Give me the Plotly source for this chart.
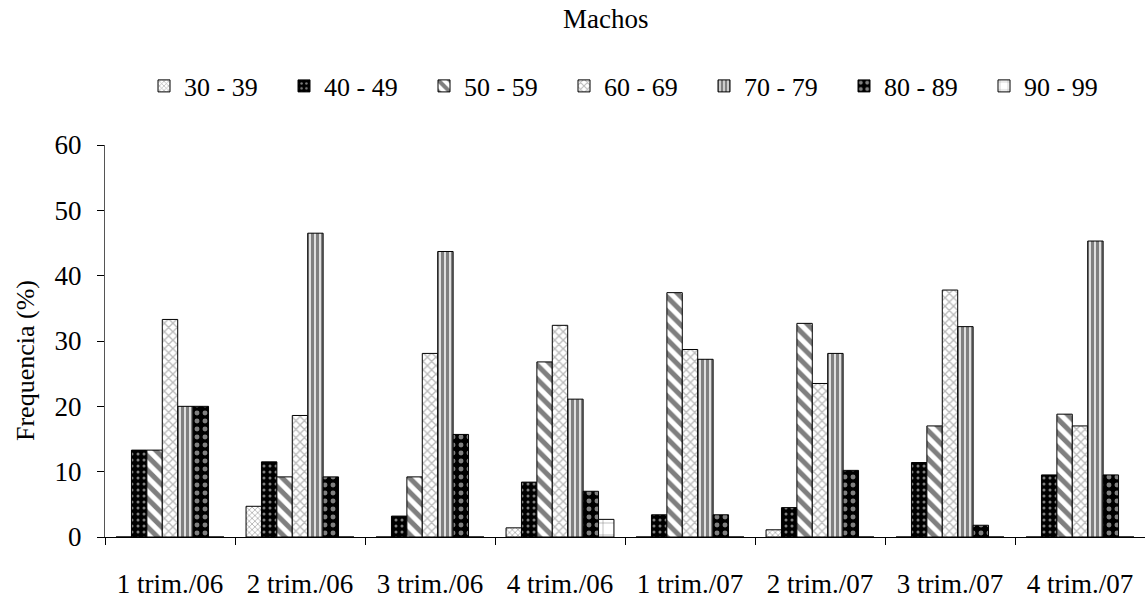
import plotly.graph_objects as go

categories = ["1 trim./06", "2 trim./06", "3 trim./06", "4 trim./06",
              "1 trim./07", "2 trim./07", "3 trim./07", "4 trim./07"]
series_names = ["30 - 39", "40 - 49", "50 - 59", "60 - 69", "70 - 79", "80 - 89", "90 - 99"]

v30_39 = [0, 4.7, 0, 1.4, 0, 1.1, 0, 0]
v40_49 = [13.3, 11.5, 3.2, 8.4, 3.4, 4.5, 11.4, 9.5]
v50_59 = [13.3, 9.2, 9.2, 26.8, 37.4, 32.7, 17.0, 18.8]
v60_69 = [33.3, 18.6, 28.1, 32.4, 28.7, 23.5, 37.8, 17.0]
v70_79 = [20.0, 46.5, 43.7, 21.1, 27.2, 28.1, 32.2, 45.3]
v80_89 = [20.0, 9.2, 15.7, 7.0, 3.4, 10.2, 1.8, 9.5]
v90_99 = [0, 0, 0, 2.7, 0, 0, 0, 0]

values = [v30_39, v40_49, v50_59, v60_69, v70_79, v80_89, v90_99]

patterns = [
    dict(shape="x", fgcolor="#555555", bgcolor="white", size=4, solidity=0.35),
    dict(shape=".", fgcolor="white", bgcolor="black", size=6, solidity=0.2),
    dict(shape="\\", fgcolor="black", bgcolor="white", size=10, solidity=0.5),
    dict(shape="x", fgcolor="#777777", bgcolor="white", size=6, solidity=0.4),
    dict(shape="|", fgcolor="black", bgcolor="white", size=5, solidity=0.7),
    dict(shape=".", fgcolor="white", bgcolor="black", size=8, solidity=0.3),
    dict(shape="+", fgcolor="black", bgcolor="white", size=12, solidity=0.08),
]

fig = go.Figure()
for name, vals, pat in zip(series_names, values, patterns):
    fig.add_trace(go.Bar(
        x=categories, y=vals, name=name,
        marker=dict(color="white", pattern=pat, line=dict(color="black", width=1)),
    ))

font = "Liberation Serif"
L, T, B, W, H = 105, 145, 67, 1145, 604
PW, PH = W - L, H - T - B
fig.update_layout(
    width=W, height=H,
    margin=dict(l=L, r=0, t=T, b=B, pad=0, autoexpand=False),
    paper_bgcolor="white", plot_bgcolor="white",
    barmode="group", bargap=0.17, bargroupgap=0,
    font=dict(family=font, color="black"),
    showlegend=True,
    legend=dict(orientation="h", x=(144 - L) / PW, xanchor="left",
                y=1 - 86 / H, yref="container", yanchor="middle",
                font=dict(size=26, family=font),
                entrywidth=95, entrywidthmode="pixels", traceorder="normal"),
    xaxis=dict(showline=True, linecolor="black", linewidth=1, ticks="outside",
               tickson="boundaries", ticklen=7, tickcolor="black", automargin=False,
               tickfont=dict(size=27, family=font), ticklabelstandoff=23),
    yaxis=dict(range=[0, 60], dtick=10, showline=True, linecolor="#555555", linewidth=1,
               ticks="outside", ticklen=7, tickcolor="black", showgrid=False, zeroline=False,
               automargin=False, tickfont=dict(size=27, family=font), ticklabelstandoff=10),
)
fig.add_annotation(text="Machos", xref="paper", yref="paper", showarrow=False,
                   x=(605 - L) / PW, y=1 + (T - 19) / PH,
                   xanchor="center", yanchor="middle",
                   font=dict(size=27, family=font))
fig.add_annotation(text="Frequencia (%)", xref="paper", yref="paper", showarrow=False,
                   x=(25 - L) / PW, y=(H - B - 361) / PH, textangle=-90,
                   xanchor="center", yanchor="middle",
                   font=dict(size=26, family=font))
fig.write_html("out.html", config={"displayModeBar": False},
               post_script="document.body.style.margin='0';")
